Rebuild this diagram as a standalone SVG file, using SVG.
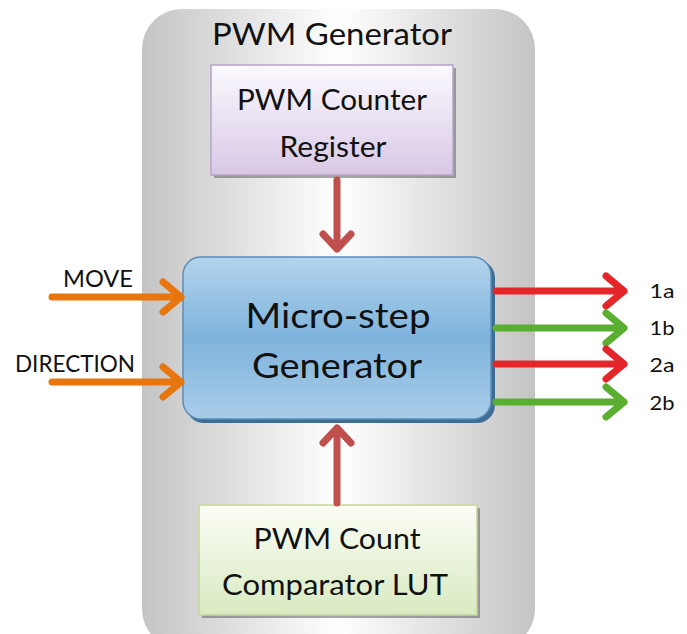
<svg xmlns="http://www.w3.org/2000/svg" width="687" height="634" viewBox="0 0 687 634">
<defs>
<linearGradient id="gOuter" x1="0" y1="0" x2="1" y2="0">
<stop offset="0" stop-color="#c4c4c4"/><stop offset="0.5" stop-color="#ffffff"/><stop offset="1" stop-color="#c4c4c4"/>
</linearGradient>
<linearGradient id="gPurple" x1="0" y1="0" x2="0" y2="1">
<stop offset="0" stop-color="#fbf9fd"/><stop offset="1" stop-color="#d8c8e6"/>
</linearGradient>
<linearGradient id="gGreen" x1="0" y1="0" x2="0" y2="1">
<stop offset="0" stop-color="#fbfdf6"/><stop offset="1" stop-color="#d9eac1"/>
</linearGradient>
<linearGradient id="gBlue" x1="0" y1="0" x2="0" y2="1">
<stop offset="0" stop-color="#b3d4ec"/><stop offset="0.5" stop-color="#7fb3dc"/><stop offset="1" stop-color="#a9cde9"/>
</linearGradient>
</defs>
<style>
text{font-family:Lato,"Open Sans","Liberation Sans",sans-serif;fill:#111;text-anchor:middle}
.ttl{font-size:30px}
.big{font-size:28px}
.mid{font-size:35px}
.lbl{font-size:23px}
.num{font-size:20px}
.arr{fill:none;stroke-width:7;stroke-linecap:round;stroke-linejoin:round}
.red{stroke:#e4262b}
.grn{stroke:#5aae30}
.org{stroke:#e8760f}
.brn{stroke:#c0504d}
</style>
<g id="pwm-generator">
<rect x="142" y="9" width="393" height="640" rx="40" fill="url(#gOuter)"/>
<text class="ttl" x="332" y="45" textLength="240" lengthAdjust="spacingAndGlyphs">PWM Generator</text>
</g>
<g id="pwm-counter-register">
<rect x="214" y="68" width="242" height="110" fill="#6b6b6b" opacity="0.6"/>
<rect x="211" y="65" width="242" height="110" fill="url(#gPurple)" stroke="#b6a2ca" stroke-width="1.5"/>
<text class="big" x="332" y="110" textLength="190" lengthAdjust="spacingAndGlyphs">PWM Counter</text>
<text class="big" x="333" y="157" textLength="107" lengthAdjust="spacingAndGlyphs">Register</text>
</g>
<g id="micro-step-generator">
<rect x="186" y="260" width="309" height="163" rx="18" fill="#3e6e96"/>
<rect x="183" y="257" width="308" height="162" rx="18" fill="url(#gBlue)" stroke="#5b8db8" stroke-width="1.5"/>
<text class="mid" x="338" y="328" textLength="185" lengthAdjust="spacingAndGlyphs">Micro-step</text>
<text class="mid" x="337" y="378" textLength="170" lengthAdjust="spacingAndGlyphs">Generator</text>
</g>
<g id="pwm-count-comparator-lut">
<rect x="202" y="508" width="278" height="110" fill="#6b6b6b" opacity="0.6"/>
<rect x="199" y="505" width="278" height="110" fill="url(#gGreen)" stroke="#c3d69b" stroke-width="1.5"/>
<text class="big" x="337" y="549" textLength="167" lengthAdjust="spacingAndGlyphs">PWM Count</text>
<text class="big" x="335" y="595" textLength="226" lengthAdjust="spacingAndGlyphs">Comparator LUT</text>
</g>
<g id="labels">
<text class="lbl" x="98" y="287" textLength="70" lengthAdjust="spacingAndGlyphs">MOVE</text>
<text class="lbl" x="75" y="372" textLength="120" lengthAdjust="spacingAndGlyphs">DIRECTION</text>
<text class="num" x="662" y="298" textLength="25" lengthAdjust="spacingAndGlyphs">1a</text>
<text class="num" x="662" y="335" textLength="25" lengthAdjust="spacingAndGlyphs">1b</text>
<text class="num" x="662" y="372" textLength="25" lengthAdjust="spacingAndGlyphs">2a</text>
<text class="num" x="662" y="410" textLength="25" lengthAdjust="spacingAndGlyphs">2b</text>
</g>
<g id="connectors">
<path class="arr brn" d="M337 180 V249 M323 234 L337 249 L351 234"/>
<path class="arr brn" d="M337 503 V428 M323 443 L337 428 L351 443"/>
<path class="arr org" d="M52 297 H181 M163 282 L181 297 L163 312"/>
<path class="arr org" d="M52 382 H181 M163 367 L181 382 L163 397"/>
<path class="arr red" d="M496 291 H624 M606 276 L624 291 L606 306"/>
<path class="arr grn" d="M496 328 H624 M606 313 L624 328 L606 343"/>
<path class="arr red" d="M496 364 H624 M606 349 L624 364 L606 379"/>
<path class="arr grn" d="M496 402 H624 M606 387 L624 402 L606 417"/>
</g>
</svg>
